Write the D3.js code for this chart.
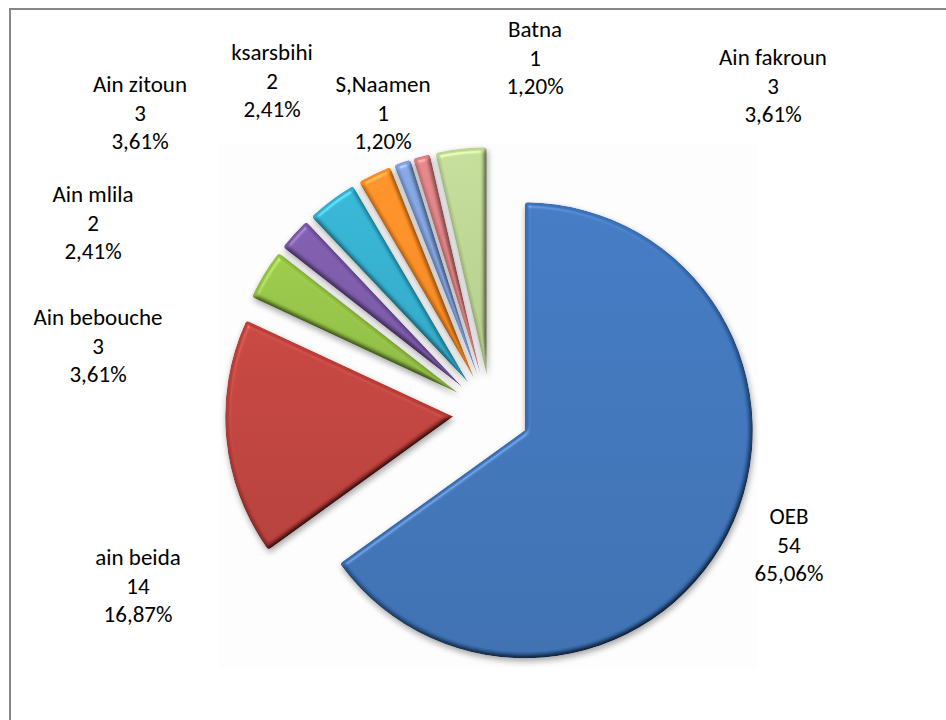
<!DOCTYPE html>
<html>
<head>
<meta charset="utf-8">
<script src="https://cdn.jsdelivr.net/npm/d3@7"></script>
<style>
  html, body { margin: 0; padding: 0; background: #fff; }
  svg { display: block; }
  text { font-family: Calibri, Carlito, "Open Sans", sans-serif; }
</style>
</head>
<body>
<svg id="chart" width="946" height="720"></svg>
<script>
// ---- data ----
const categories = ["OEB", "ain beida", "Ain bebouche", "Ain mlila", "Ain zitoun",
                    "ksarsbihi", "S,Naamen", "Batna", "Ain fakroun"];
const counts = [54, 14, 3, 2, 3, 2, 1, 1, 3];

// ---- styling ----
const sliceColors = ["#396FB5", "#BA3C37", "#8FBD40", "#7553A2", "#2DA9C9",
                     "#F4871F", "#7B9CD7", "#D67B7E", "#B7D08D"];

// ---- layout ----
const W = 946, H = 720;
const center = [491, 413];
const radius = 228;
const explode = 38;
const lineGap = 28.7;
// label anchor: centre x and first-line baseline for each category
const labelAnchors = [
  [789, 524], [138, 565], [98, 325], [93, 202], [140, 92],
  [272, 60], [383, 92], [535, 37], [773, 65]
];

const svg = d3.select("#chart");
const defs = svg.append("defs");

// chart frame
svg.append("rect")
  .attr("x", 10).attr("y", 9)
  .attr("width", W + 20).attr("height", H + 20)
  .attr("fill", "#fff")
  .attr("stroke", "#878787").attr("stroke-width", 2);

// faint plot area
svg.append("rect")
  .attr("x", 219).attr("y", 143)
  .attr("width", 539).attr("height", 525)
  .attr("fill", "#fdfdfd");

// bevel + shadow filter
const f = defs.append("filter").attr("id", "bevel")
  .attr("x", "-20%").attr("y", "-20%").attr("width", "140%").attr("height", "140%")
  .attr("color-interpolation-filters", "sRGB");
f.append("feGaussianBlur").attr("in", "SourceAlpha").attr("stdDeviation", 3).attr("result", "shBlur");
f.append("feOffset").attr("in", "shBlur").attr("dx", 1).attr("dy", 3).attr("result", "shOff");
f.append("feComponentTransfer").attr("in", "shOff").attr("result", "shadow")
  .append("feFuncA").attr("type", "linear").attr("slope", 0.35);
f.append("feGaussianBlur").attr("in", "SourceAlpha").attr("stdDeviation", 2.6).attr("result", "bump");
const diff = f.append("feDiffuseLighting").attr("in", "bump").attr("surfaceScale", 3)
  .attr("diffuseConstant", 1.2).attr("lighting-color", "#fff").attr("result", "diff");
diff.append("feDistantLight").attr("azimuth", 240).attr("elevation", 58);
f.append("feComposite").attr("in", "SourceGraphic").attr("in2", "diff")
  .attr("operator", "arithmetic").attr("k1", 1).attr("k2", 0).attr("k3", 0).attr("k4", 0)
  .attr("result", "shaded");
const spec = f.append("feSpecularLighting").attr("in", "bump").attr("surfaceScale", 3)
  .attr("specularConstant", 0.8).attr("specularExponent", 40)
  .attr("lighting-color", "#fff").attr("result", "spec");
spec.append("feDistantLight").attr("azimuth", 240).attr("elevation", 58);
f.append("feComposite").attr("in", "spec").attr("in2", "SourceAlpha")
  .attr("operator", "in").attr("result", "specIn");
f.append("feComposite").attr("in", "shaded").attr("in2", "specIn")
  .attr("operator", "arithmetic").attr("k1", 0).attr("k2", 1).attr("k3", 0.28).attr("k4", 0)
  .attr("result", "lit");
f.append("feComposite").attr("in", "lit").attr("in2", "SourceAlpha")
  .attr("operator", "in").attr("result", "litIn");
const merge = f.append("feMerge");
merge.append("feMergeNode").attr("in", "shadow");
merge.append("feMergeNode").attr("in", "litIn");

// vertical gradient per slice colour
sliceColors.forEach((c, i) => {
  const g = defs.append("linearGradient").attr("id", "grad" + i)
    .attr("x1", 0).attr("y1", 0).attr("x2", 0).attr("y2", 1);
  g.append("stop").attr("offset", "0%").attr("stop-color", d3.color(c).brighter(0.06));
  g.append("stop").attr("offset", "100%").attr("stop-color", d3.color(c).darker(0.22));
});

const data = categories.map((name, i) => ({ name, value: counts[i], idx: i }));
const total = d3.sum(counts);

const pie = d3.pie().value(d => d.value).sort(null)
  .startAngle(0).endAngle(2 * Math.PI);
const arc = d3.arc().innerRadius(0).outerRadius(radius).cornerRadius(3);

const arcs = pie(data);

const gPie = svg.append("g").attr("transform", `translate(${center[0]},${center[1]})`);
gPie.selectAll("path.slice")
  .data(arcs)
  .join("path")
  .attr("class", "slice")
  .attr("transform", d => {
    const mid = (d.startAngle + d.endAngle) / 2;
    return `translate(${explode * Math.sin(mid)},${-explode * Math.cos(mid)})`;
  })
  .attr("d", arc)
  .attr("fill", d => `url(#grad${d.data.idx})`)
  .attr("filter", "url(#bevel)");

// data labels: name, value, percentage
const pct = v => (v / total * 100).toFixed(2).replace(".", ",") + "%";
const labels = svg.append("g").attr("class", "labels");
arcs.forEach(d => {
  const [x, y] = labelAnchors[d.data.idx];
  const t = labels.append("text")
    .attr("x", x).attr("y", y)
    .attr("text-anchor", "middle")
    .attr("font-size", 23)
    .attr("fill", "#000");
  [d.data.name, String(d.data.value), pct(d.data.value)].forEach((s, k) => {
    t.append("tspan").attr("x", x).attr("y", y + k * lineGap).text(s);
  });
});
</script>
</body>
</html>
